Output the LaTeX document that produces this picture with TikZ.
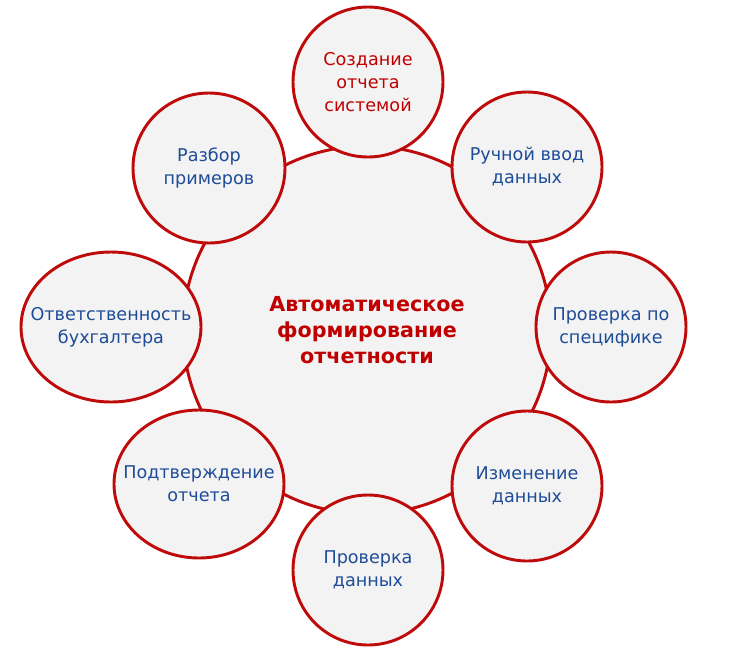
\documentclass[tikz,border=0pt]{standalone}
\usepackage{fontspec}
\setmainfont{DejaVu Sans}
\usetikzlibrary{shapes.geometric}
\definecolor{rpRed}{RGB}{192,0,0}
\definecolor{rpLine}{RGB}{190,10,10}
\definecolor{rpBlue}{RGB}{30,76,152}
\definecolor{rpFill}{RGB}{243,243,243}

\begin{document}
\begin{tikzpicture}[
  x=0.75pt, y=-0.75pt,
  hub/.style={
    circle, draw=rpLine, fill=rpFill, line width=2.2pt,
    minimum size=276pt, inner sep=0pt, align=center,
    text=rpRed, font=\fontsize{15.5}{19.5}\selectfont\bfseries
  },
  sat/.style 2 args={
    ellipse, draw=rpLine, fill=rpFill, line width=2.2pt,
    minimum width=#1, minimum height=#2, inner sep=0pt
  },
  satlbl/.style={
    align=center, inner sep=0pt,
    text=rpBlue, font=\fontsize{13.2}{17.25}\selectfont
  },
]
\useasboundingbox (0,0) rectangle (736,669);

% --- Central topic ----------------------------------------------------------
\node[hub] (auto) at (367,330) {Автоматическое\\формирование\\отчетности};

% --- Surrounding steps, clockwise from the top --------------------------------
\node[sat={112.5pt}{112.5pt}, label={[satlbl, text=rpRed]center:Создание\\отчета\\системой}] (sozd) at (368,82)  {};
\node[sat={112.5pt}{112.5pt}, label={[satlbl]center:Ручной ввод\\данных}]          (ruch) at (527,167) {};
\node[sat={112.5pt}{112.5pt}, label={[satlbl]center:Проверка по\\специфике}]      (spec) at (611,327) {};
\node[sat={112.5pt}{112.5pt}, label={[satlbl]center:Изменение\\данных}]           (izm)  at (527,486) {};
\node[sat={112.5pt}{112.5pt}, label={[satlbl]center:Проверка\\данных}]            (prov) at (368,570) {};
\node[sat={127.5pt}{111pt},   label={[satlbl]center:Подтверждение\\отчета}]       (podt) at (199,484) {};
\node[sat={135pt}{112.5pt},   label={[satlbl]center:Ответственность\\бухгалтера}] (otv)  at (111,327) {};
\node[sat={114pt}{112.5pt},   label={[satlbl]center:Разбор\\примеров}]            (razb) at (209,168) {};

\end{tikzpicture}
\end{document}
